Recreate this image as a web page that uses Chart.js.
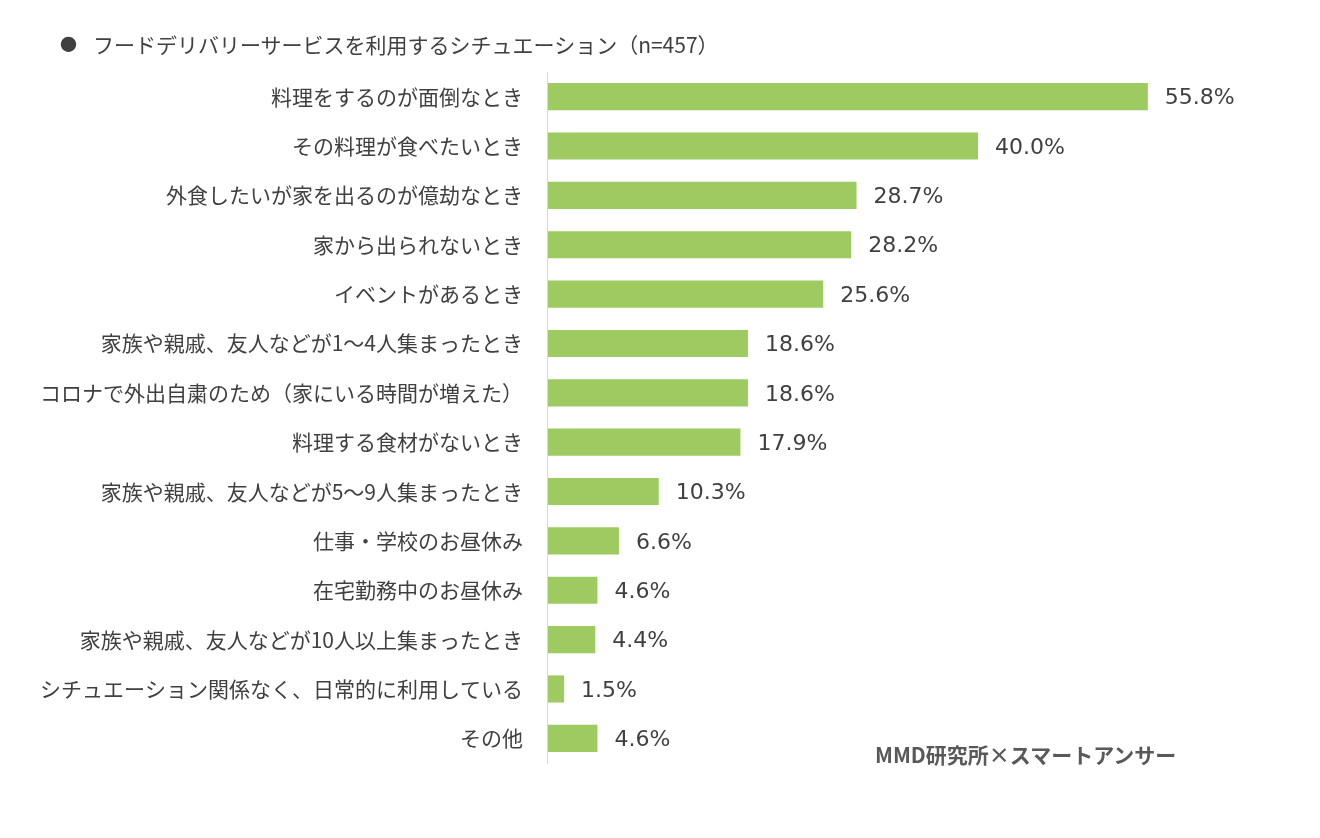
<!DOCTYPE html>
<html lang="ja">
<head>
    <meta charset="UTF-8">
    <title>フードデリバリーサービスを利用するシチュエーション</title>
    <style>
        body {
            margin: 0;
            background-color: #fff;
            font-family: "Noto Sans CJK JP", "DejaVu Sans", sans-serif;
            color: #404040;
        }
        .wrap {
            position: relative;
            width: 1320px;
            height: 838px;
        }
        .title {
            position: absolute;
            left: 60px;
            top: 29px;
            font-size: 21px;
            white-space: nowrap;
        }
        .title .dot {
            display: inline-block;
            font-size: 17px;
            margin-right: 16px;
            vertical-align: 2px;
        }
        .credit {
            position: absolute;
            left: 875px;
            top: 739px;
            font-size: 21px;
            font-weight: bold;
            color: #595959;
            white-space: nowrap;
        }
        #chart {
            position: absolute;
            left: 0;
            top: 0;
        }
    </style>
    <script src="https://cdn.jsdelivr.net/npm/chart.js"></script>
</head>
<body>
    <div class="wrap">
        <canvas id="chart" width="1320" height="838"></canvas>
        <div class="title"><span class="dot">●</span>フードデリバリーサービスを利用するシチュエーション（n=457）</div>
        <div class="credit">MMD研究所×スマートアンサー</div>
    </div>

    <script>
        const situations = [
            '料理をするのが面倒なとき',
            'その料理が食べたいとき',
            '外食したいが家を出るのが億劫なとき',
            '家から出られないとき',
            'イベントがあるとき',
            '家族や親戚、友人などが1～4人集まったとき',
            'コロナで外出自粛のため（家にいる時間が増えた）',
            '料理する食材がないとき',
            '家族や親戚、友人などが5～9人集まったとき',
            '仕事・学校のお昼休み',
            '在宅勤務中のお昼休み',
            '家族や親戚、友人などが10人以上集まったとき',
            'シチュエーション関係なく、日常的に利用している',
            'その他'
        ];
        const percentages = [55.8, 40.0, 28.7, 28.2, 25.6, 18.6, 18.6, 17.9, 10.3, 6.6, 4.6, 4.4, 1.5, 4.6];

        // value labels to the right of each bar
        const valueLabels = {
            id: 'valueLabels',
            afterDatasetsDraw(chart) {
                const ctx = chart.ctx;
                const meta = chart.getDatasetMeta(0);
                ctx.save();
                ctx.font = '22px "DejaVu Sans", sans-serif';
                ctx.fillStyle = '#404040';
                ctx.textBaseline = 'middle';
                ctx.textAlign = 'left';
                meta.data.forEach(function (bar, i) {
                    ctx.fillText(percentages[i].toFixed(1) + '%', bar.x + 17, bar.y + 2);
                });
                ctx.restore();
            }
        };

        new Chart(document.getElementById('chart'), {
            type: 'bar',
            data: {
                labels: situations,
                datasets: [{
                    data: percentages,
                    backgroundColor: '#9dcb62',
                    barPercentage: 0.55,
                    categoryPercentage: 1.0
                }]
            },
            plugins: [valueLabels],
            options: {
                indexAxis: 'y',
                responsive: false,
                animation: false,
                layout: {
                    padding: { top: 72, bottom: 75, right: 127, left: 23 }
                },
                scales: {
                    x: {
                        display: false,
                        min: 0,
                        max: 60
                    },
                    y: {
                        grid: { display: false },
                        border: { display: true, color: '#d9d9d9', width: 1 },
                        ticks: {
                            color: '#404040',
                            padding: 17,
                            font: { family: '"Noto Sans CJK JP", sans-serif', size: 21 }
                        }
                    }
                },
                plugins: {
                    legend: { display: false },
                    tooltip: { enabled: false }
                }
            }
        });
    </script>
</body>
</html>
